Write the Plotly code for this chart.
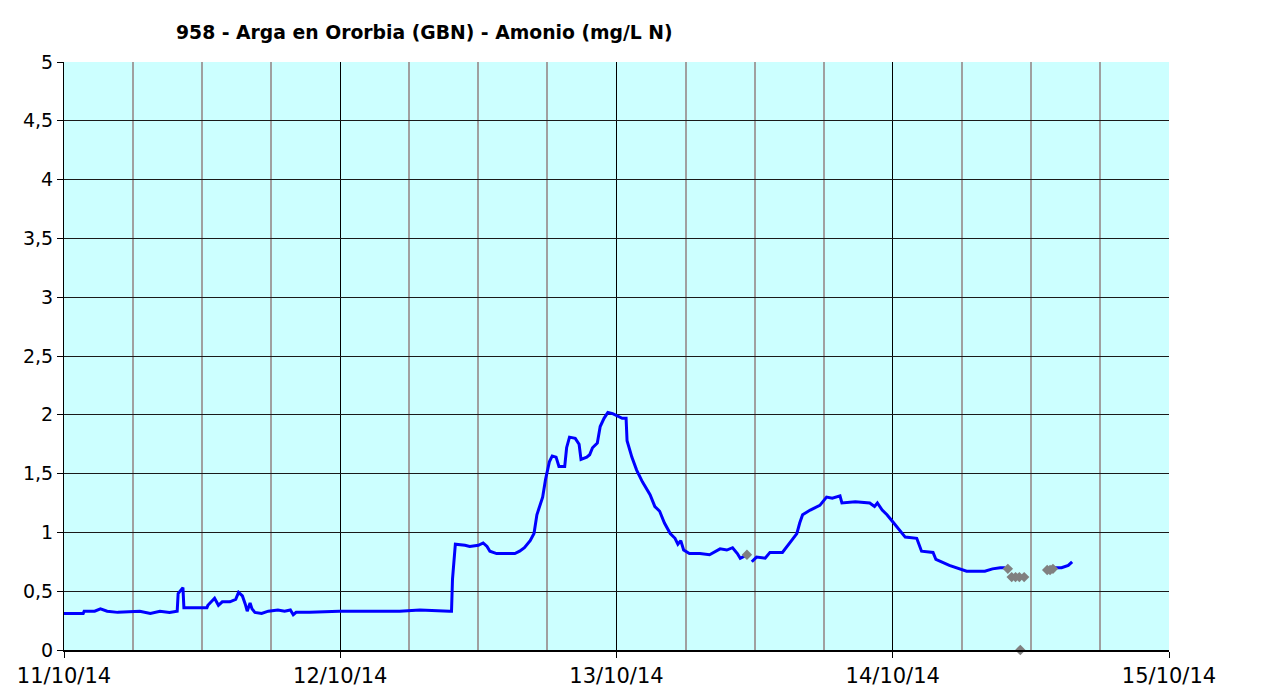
import plotly.graph_objects as go

# Blue series: Amonio (mg/L N), gaps marked with None
times = [
    "2014-10-11 00:00", "2014-10-11 01:40", "2014-10-11 01:45", "2014-10-11 02:40", "2014-10-11 03:10",
    "2014-10-11 03:45", "2014-10-11 04:40", "2014-10-11 06:35", "2014-10-11 07:30", "2014-10-11 08:20",
    "2014-10-11 09:10", "2014-10-11 09:50", "2014-10-11 09:55", "2014-10-11 10:10", "2014-10-11 10:20",
    "2014-10-11 10:25", "2014-10-11 12:25", "2014-10-11 12:30", "2014-10-11 12:50", "2014-10-11 13:05",
    "2014-10-11 13:25", "2014-10-11 13:45", "2014-10-11 14:25", "2014-10-11 14:55", "2014-10-11 15:10",
    "2014-10-11 15:30", "2014-10-11 15:45", "2014-10-11 15:55", "2014-10-11 16:10", "2014-10-11 16:20",
    "2014-10-11 16:35", "2014-10-11 17:10", "2014-10-11 17:45", "2014-10-11 18:35", "2014-10-11 19:10",
    "2014-10-11 19:40", "2014-10-11 19:55", "2014-10-11 20:10", "2014-10-11 21:20", "2014-10-11 23:55",
    "2014-10-12 05:10", "2014-10-12 06:55", "2014-10-12 09:30", "2014-10-12 09:40", "2014-10-12 09:45",
    "2014-10-12 10:00", "2014-10-12 10:50", "2014-10-12 11:15", "2014-10-12 12:00", "2014-10-12 12:25",
    "2014-10-12 12:45", "2014-10-12 13:00", "2014-10-12 13:35", "2014-10-12 14:30", "2014-10-12 15:10",
    "2014-10-12 15:35", "2014-10-12 16:00", "2014-10-12 16:30", "2014-10-12 16:50", "2014-10-12 17:05",
    "2014-10-12 17:20", "2014-10-12 17:35", "2014-10-12 17:50", "2014-10-12 18:10", "2014-10-12 18:25",
    "2014-10-12 18:45", "2014-10-12 19:00", "2014-10-12 19:30", "2014-10-12 19:40", "2014-10-12 19:55",
    "2014-10-12 20:25", "2014-10-12 20:45", "2014-10-12 20:55", "2014-10-12 21:25", "2014-10-12 21:40",
    "2014-10-12 21:55", "2014-10-12 22:20", "2014-10-12 22:35", "2014-10-12 22:55", "2014-10-12 23:15",
    "2014-10-12 23:40", "2014-10-13 00:05", "2014-10-13 00:30", "2014-10-13 00:50", "2014-10-13 00:55",
    "2014-10-13 01:20", "2014-10-13 01:45", "2014-10-13 02:15", "2014-10-13 02:55", "2014-10-13 03:20",
    "2014-10-13 03:45", "2014-10-13 04:10", "2014-10-13 04:40", "2014-10-13 05:05", "2014-10-13 05:20",
    "2014-10-13 05:35", "2014-10-13 05:50", "2014-10-13 06:20", "2014-10-13 07:15", "2014-10-13 08:05",
    "2014-10-13 09:00", "2014-10-13 09:35", "2014-10-13 10:05", "2014-10-13 10:30", "2014-10-13 10:45",
    "2014-10-13 11:10", "2014-10-13 11:30", "2014-10-13 11:45", "2014-10-13 12:10", "2014-10-13 12:55",
    "2014-10-13 13:20", "2014-10-13 14:25", "2014-10-13 15:05", "2014-10-13 15:40", "2014-10-13 15:55",
    "2014-10-13 16:10", "2014-10-13 16:50", "2014-10-13 17:40", "2014-10-13 18:15", "2014-10-13 18:45",
    "2014-10-13 19:25", "2014-10-13 19:35", "2014-10-13 20:45", "2014-10-13 22:00", "2014-10-13 22:25",
    "2014-10-13 22:40", "2014-10-13 23:05", "2014-10-13 23:30", "2014-10-14 00:00", "2014-10-14 00:35",
    "2014-10-14 01:05", "2014-10-14 02:05", "2014-10-14 02:30", "2014-10-14 03:30", "2014-10-14 03:45",
    "2014-10-14 04:55", "2014-10-14 05:50", "2014-10-14 06:25", "2014-10-14 08:00", "2014-10-14 08:40",
    "2014-10-14 09:20", "2014-10-14 09:45", "2014-10-14 12:00", "2014-10-14 14:05", "2014-10-14 14:40",
    "2014-10-14 15:15", "2014-10-14 15:35",
]
amonio = [
    0.31, 0.31, 0.33, 0.33, 0.35,
    0.33, 0.32, 0.33, 0.31, 0.33,
    0.32, 0.33, 0.48, 0.51, 0.53,
    0.36, 0.36, 0.38, 0.42, 0.44,
    0.38, 0.41, 0.41, 0.43, 0.49,
    0.46, 0.39, 0.33, 0.40, 0.35,
    0.32, 0.31, 0.33, 0.34, 0.33,
    0.34, 0.30, 0.32, 0.32, 0.33,
    0.33, 0.34, 0.33, 0.33, 0.60,
    0.90, 0.89, 0.88, 0.89, 0.91,
    0.88, 0.84, 0.82, 0.82, 0.82,
    0.84, 0.87, 0.93, 0.99, 1.15,
    1.22, 1.30, 1.45, 1.60, 1.65,
    1.64, 1.56, 1.56, 1.72, 1.81,
    1.80, 1.75, 1.62, 1.64, 1.66,
    1.72, 1.76, 1.90, 1.97, 2.02,
    2.01, 1.99, 1.97, 1.97, 1.78,
    1.64, 1.53, 1.43, 1.32, 1.22,
    1.18, 1.08, 0.99, 0.95, 0.90,
    0.93, 0.85, 0.82, 0.82, 0.81,
    0.86, 0.85, 0.87, 0.82, 0.78,
    0.80, None, 0.75, 0.79, 0.78,
    0.83, 0.83, 0.92, 0.99, 1.08,
    1.15, 1.19, 1.23, 1.30, 1.29,
    1.31, 1.25, 1.26, 1.25, 1.22,
    1.25, 1.19, 1.15, 1.09, 1.02,
    0.96, 0.95, 0.84, 0.83, 0.77,
    0.72, 0.69, 0.67, 0.67, 0.69,
    0.70, 0.70, None, 0.70, 0.70,
    0.72, 0.75,
]

# Grey markers: flagged values
flag_times = [
    "2014-10-13 11:20", "2014-10-14 10:00", "2014-10-14 10:20", "2014-10-14 10:40",
    "2014-10-14 11:00", "2014-10-14 11:25", "2014-10-14 11:05", "2014-10-14 13:25",
    "2014-10-14 13:40", "2014-10-14 13:55",
]
flag_values = [0.81, 0.69, 0.62, 0.62, 0.62, 0.62, 0.0, 0.68, 0.68, 0.69]

title_text = "958 - Arga en Ororbia (GBN) - Amonio (mg/L N)"
x_start, x_end = "2014-10-11", "2014-10-15"
y_min, y_max = 0, 5

W, H = 1257, 682

fig = go.Figure()
fig.add_trace(go.Scatter(
    x=times, y=amonio, mode="lines",
    line=dict(color="#0000FF", width=3),
    connectgaps=False, showlegend=False, hoverinfo="x+y",
))
fig.add_trace(go.Scatter(
    x=flag_times, y=flag_values, mode="markers",
    marker=dict(symbol="diamond", color="#808080", size=8),
    showlegend=False, cliponaxis=False,
))

fig.update_layout(
    width=W, height=H,
    margin=dict(l=56, r=96, t=54, b=40),
    paper_bgcolor="#FFFFFF",
    plot_bgcolor="#CCFFFF",
    separators=",.",
    font=dict(family="DejaVu Sans", size=19, color="#000000"),
    title=dict(
        text="<b>" + title_text + "</b>",
        x=168 / W, xanchor="left", xref="container",
        y=1 - 24 / H, yanchor="middle", yref="container",
        font=dict(family="DejaVu Sans", size=18.8, color="#000000"),
    ),
)
fig.update_xaxes(
    type="date", range=[x_start, x_end],
    dtick=86400000, tick0=x_start, tickformat="%d/%m/%y",
    showgrid=True, gridcolor="#000000", gridwidth=1,
    minor=dict(dtick=6 * 3600000, showgrid=True, gridcolor="#A0A0A0", gridwidth=1.5),
    ticks="outside", ticklen=6, tickcolor="#000000",
    showline=True, linecolor="#000000", linewidth=2,
    tickfont=dict(family="DejaVu Sans", size=21),
    zeroline=False, automargin=False,
)
fig.update_yaxes(
    range=[y_min, y_max], dtick=0.5, tick0=0,
    showgrid=True, gridcolor="#1A1A1A", gridwidth=1,
    ticks="outside", ticklen=6, tickcolor="#000000",
    showline=True, linecolor="#000000", linewidth=1,
    tickfont=dict(family="DejaVu Sans", size=19),
    zeroline=False, automargin=False,
)

fig.write_html("out.html")
